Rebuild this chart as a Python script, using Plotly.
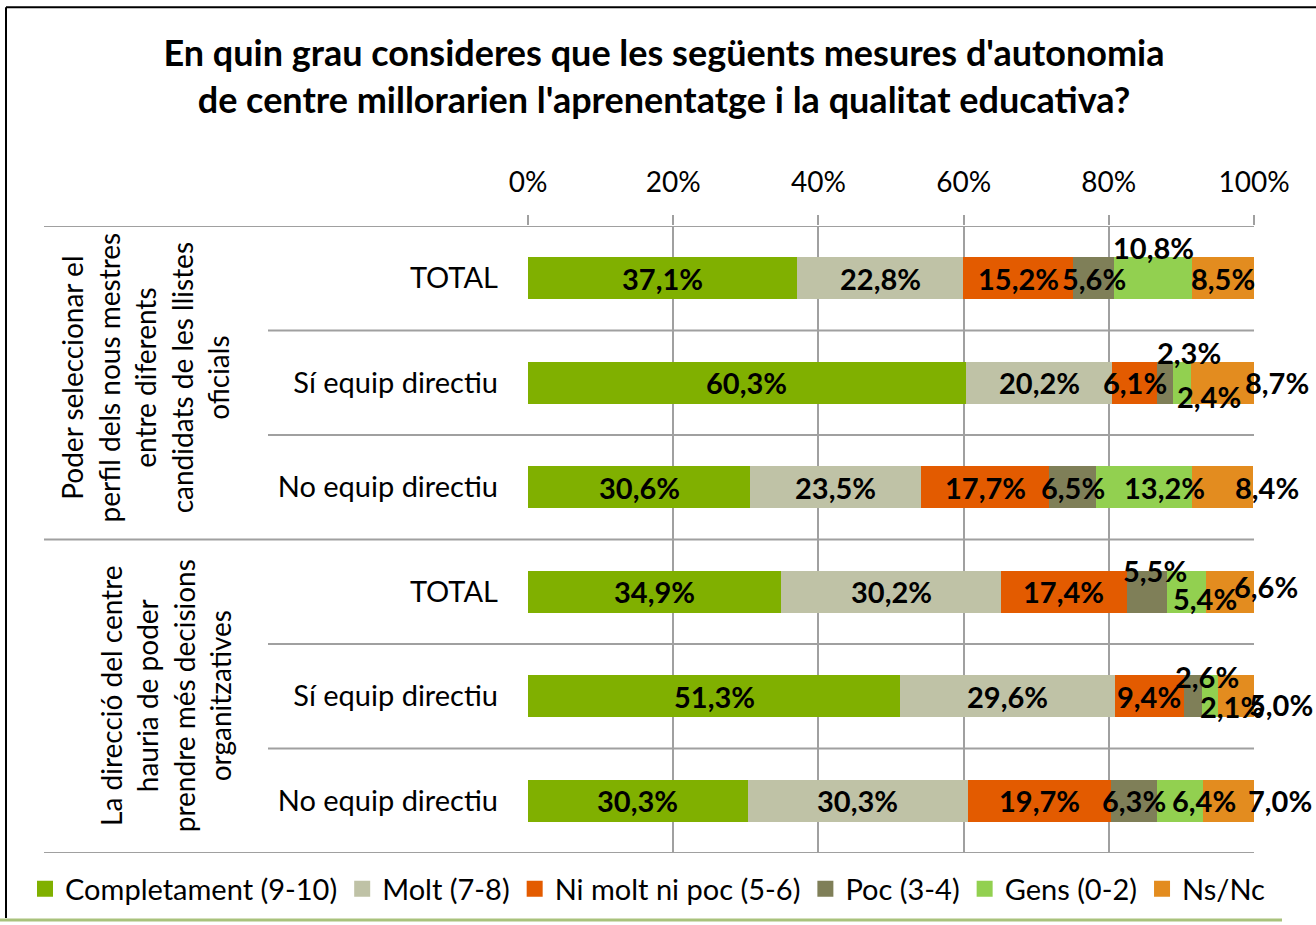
import plotly.graph_objects as go

# ---- data ----
rows = ["TOTAL", "Sí equip directiu", "No equip directiu",
        "TOTAL", "Sí equip directiu", "No equip directiu"]
group_labels = [
    "Poder seleccionar el<br>perfil dels nous mestres<br>entre diferents<br>candidats de les llistes<br>oficials",
    "La direcció del centre<br>hauria de poder<br>prendre més decisions<br>organitzatives",
]
group_rows = [[0, 1, 2], [3, 4, 5]]
series_names = ["Completament (9-10)", "Molt (7-8)", "Ni molt ni poc (5-6)",
                "Poc (3-4)", "Gens (0-2)", "Ns/Nc"]
completament = [37.1, 60.3, 30.6, 34.9, 51.3, 30.3]
molt = [22.8, 20.2, 23.5, 30.2, 29.6, 30.3]
ni_molt_ni_poc = [15.2, 6.1, 17.7, 17.4, 9.4, 19.7]
poc = [5.6, 2.3, 6.5, 5.5, 2.6, 6.3]
gens = [10.8, 2.4, 13.2, 5.4, 2.1, 6.4]
ns_nc = [8.5, 8.7, 8.4, 6.6, 5.0, 7.0]
x_ticks = [0, 20, 40, 60, 80, 100]
x_tick_labels = ["0%", "20%", "40%", "60%", "80%", "100%"]

series = [completament, molt, ni_molt_ni_poc, poc, gens, ns_nc]

# ---- styles ----
colors = ["#80B000", "#BFC2A6", "#E35B00", "#7F7F58", "#92D050", "#E38C1F"]
FONT = "Lato"
GRID = "#A0A0A0"
# manual label nudges (series index, row) -> (dx px, dy px)
label_nudge = {
    (4, 0): (0, 31),
    (3, 1): (24, 30), (4, 1): (27, -14), (5, 1): (55, 0),
    (4, 2): (20, 0), (5, 2): (44, 0),
    (3, 3): (8, 21), (4, 3): (19, -7), (5, 3): (36, 5),
    (3, 4): (14, 20), (4, 4): (22, -10), (5, 4): (45, -8),
    (4, 5): (24, 0), (5, 5): (51, 0),
}

W, H = 1316, 925
L, R, T, B = 528, 62, 226, 71
pw, ph = W - L - R, H - T - B


def px_x(p):
    return (p - L) / pw


def px_y(p):
    return (H - B - p) / ph


fig = go.Figure()
ypos = list(range(len(rows)))
for name, vals, col in zip(series_names, series, colors):
    fig.add_trace(go.Bar(
        y=ypos, x=vals, orientation="h", width=0.4, name=name,
        marker=dict(color=col, line=dict(width=0)),
        showlegend=False, hoverinfo="skip",
    ))
# legend entries
for name, col in zip(series_names, colors):
    fig.add_trace(go.Scatter(
        x=[None], y=[None], mode="markers", name=name,
        marker=dict(symbol="square", size=18, color=col),
    ))

annotations = []
cum = [0.0] * len(rows)
for si, vals in enumerate(series):
    for ri, v in enumerate(vals):
        mid = cum[ri] + v / 2
        dx, dy = label_nudge.get((si, ri), (0, 0))
        annotations.append(dict(
            x=mid, y=ri, xref="x", yref="y", showarrow=False,
            text=f"{v:.1f}".replace(".", ",") + "%",
            font=dict(family=FONT, size=29, color="black", weight="bold"),
            xshift=dx, yshift=dy,
        ))
        cum[ri] += v

group_x = [145, 165]
for gi, (gl, gr) in enumerate(zip(group_labels, group_rows)):
    annotations.append(dict(
        x=px_x(group_x[gi]), y=sum(gr) / len(gr) - (0.05 if gi == 0 else 0),
        xref="paper", yref="y", showarrow=False, textangle=-90,
        xanchor="center", yanchor="middle",
        text=gl, align="center",
        font=dict(family=FONT, size=28, color="black"),
    ))

shapes = []
# horizontal separators
for b in [i - 0.5 for i in range(len(rows) + 1)]:
    full = b in (-0.5, 2.5, 5.5)
    shapes.append(dict(type="line", xref="paper", yref="y",
                       x0=px_x(44 if full else 268), x1=1, y0=b, y1=b,
                       line=dict(color=GRID, width=2), layer="below"))
# frame
shapes.append(dict(type="line", xref="paper", yref="paper",
                   x0=px_x(6), x1=px_x(1320), y0=px_y(7), y1=px_y(7),
                   line=dict(color="black", width=2)))
shapes.append(dict(type="line", xref="paper", yref="paper",
                   x0=px_x(6), x1=px_x(6), y0=px_y(7), y1=px_y(919),
                   line=dict(color="black", width=2)))
shapes.append(dict(type="line", xref="paper", yref="paper",
                   x0=px_x(0), x1=px_x(1282), y0=px_y(921), y1=px_y(921),
                   line=dict(color="#A9C27C", width=3)))

fig.update_layout(
    width=W, height=H,
    margin=dict(l=L, r=R, t=T, b=B),
    paper_bgcolor="white", plot_bgcolor="white",
    barmode="stack", bargap=0.6,
    title=dict(
        text="En quin grau consideres que les següents mesures d'autonomia<br>de centre millorarien l'aprenentatge i la qualitat educativa?",
        font=dict(family=FONT, size=36, color="black", weight="bold"),
        x=664 / W, xanchor="center", xref="container",
        y=1 - 66 / H, yanchor="middle", yref="container",
    ),
    xaxis=dict(
        side="top", range=[0, 100], tickvals=x_ticks, ticktext=x_tick_labels,
        showgrid=True, gridcolor=GRID, gridwidth=2, zeroline=False,
        ticks="outside", ticklen=10, tickwidth=2, tickcolor=GRID,
        tickfont=dict(family=FONT, size=28, color="black"),
        ticklabelstandoff=12, showline=False,
    ),
    yaxis=dict(
        range=[len(rows) - 0.5, -0.5], tickvals=ypos, ticktext=rows,
        showgrid=False, zeroline=False, showline=False, ticks="",
        tickfont=dict(family=FONT, size=29, color="black"),
        ticklabelstandoff=29,
    ),
    legend=dict(
        orientation="h", x=px_x(25), xanchor="left", traceorder="normal",
        y=px_y(889), yanchor="middle",
        font=dict(family=FONT, size=29, color="black"),
        bgcolor="rgba(0,0,0,0)", itemclick=False,
    ),
    annotations=annotations,
    shapes=shapes,
)

fig.write_html("out.html", config={"displayModeBar": False},
               post_script="document.body.style.margin='0px';")
